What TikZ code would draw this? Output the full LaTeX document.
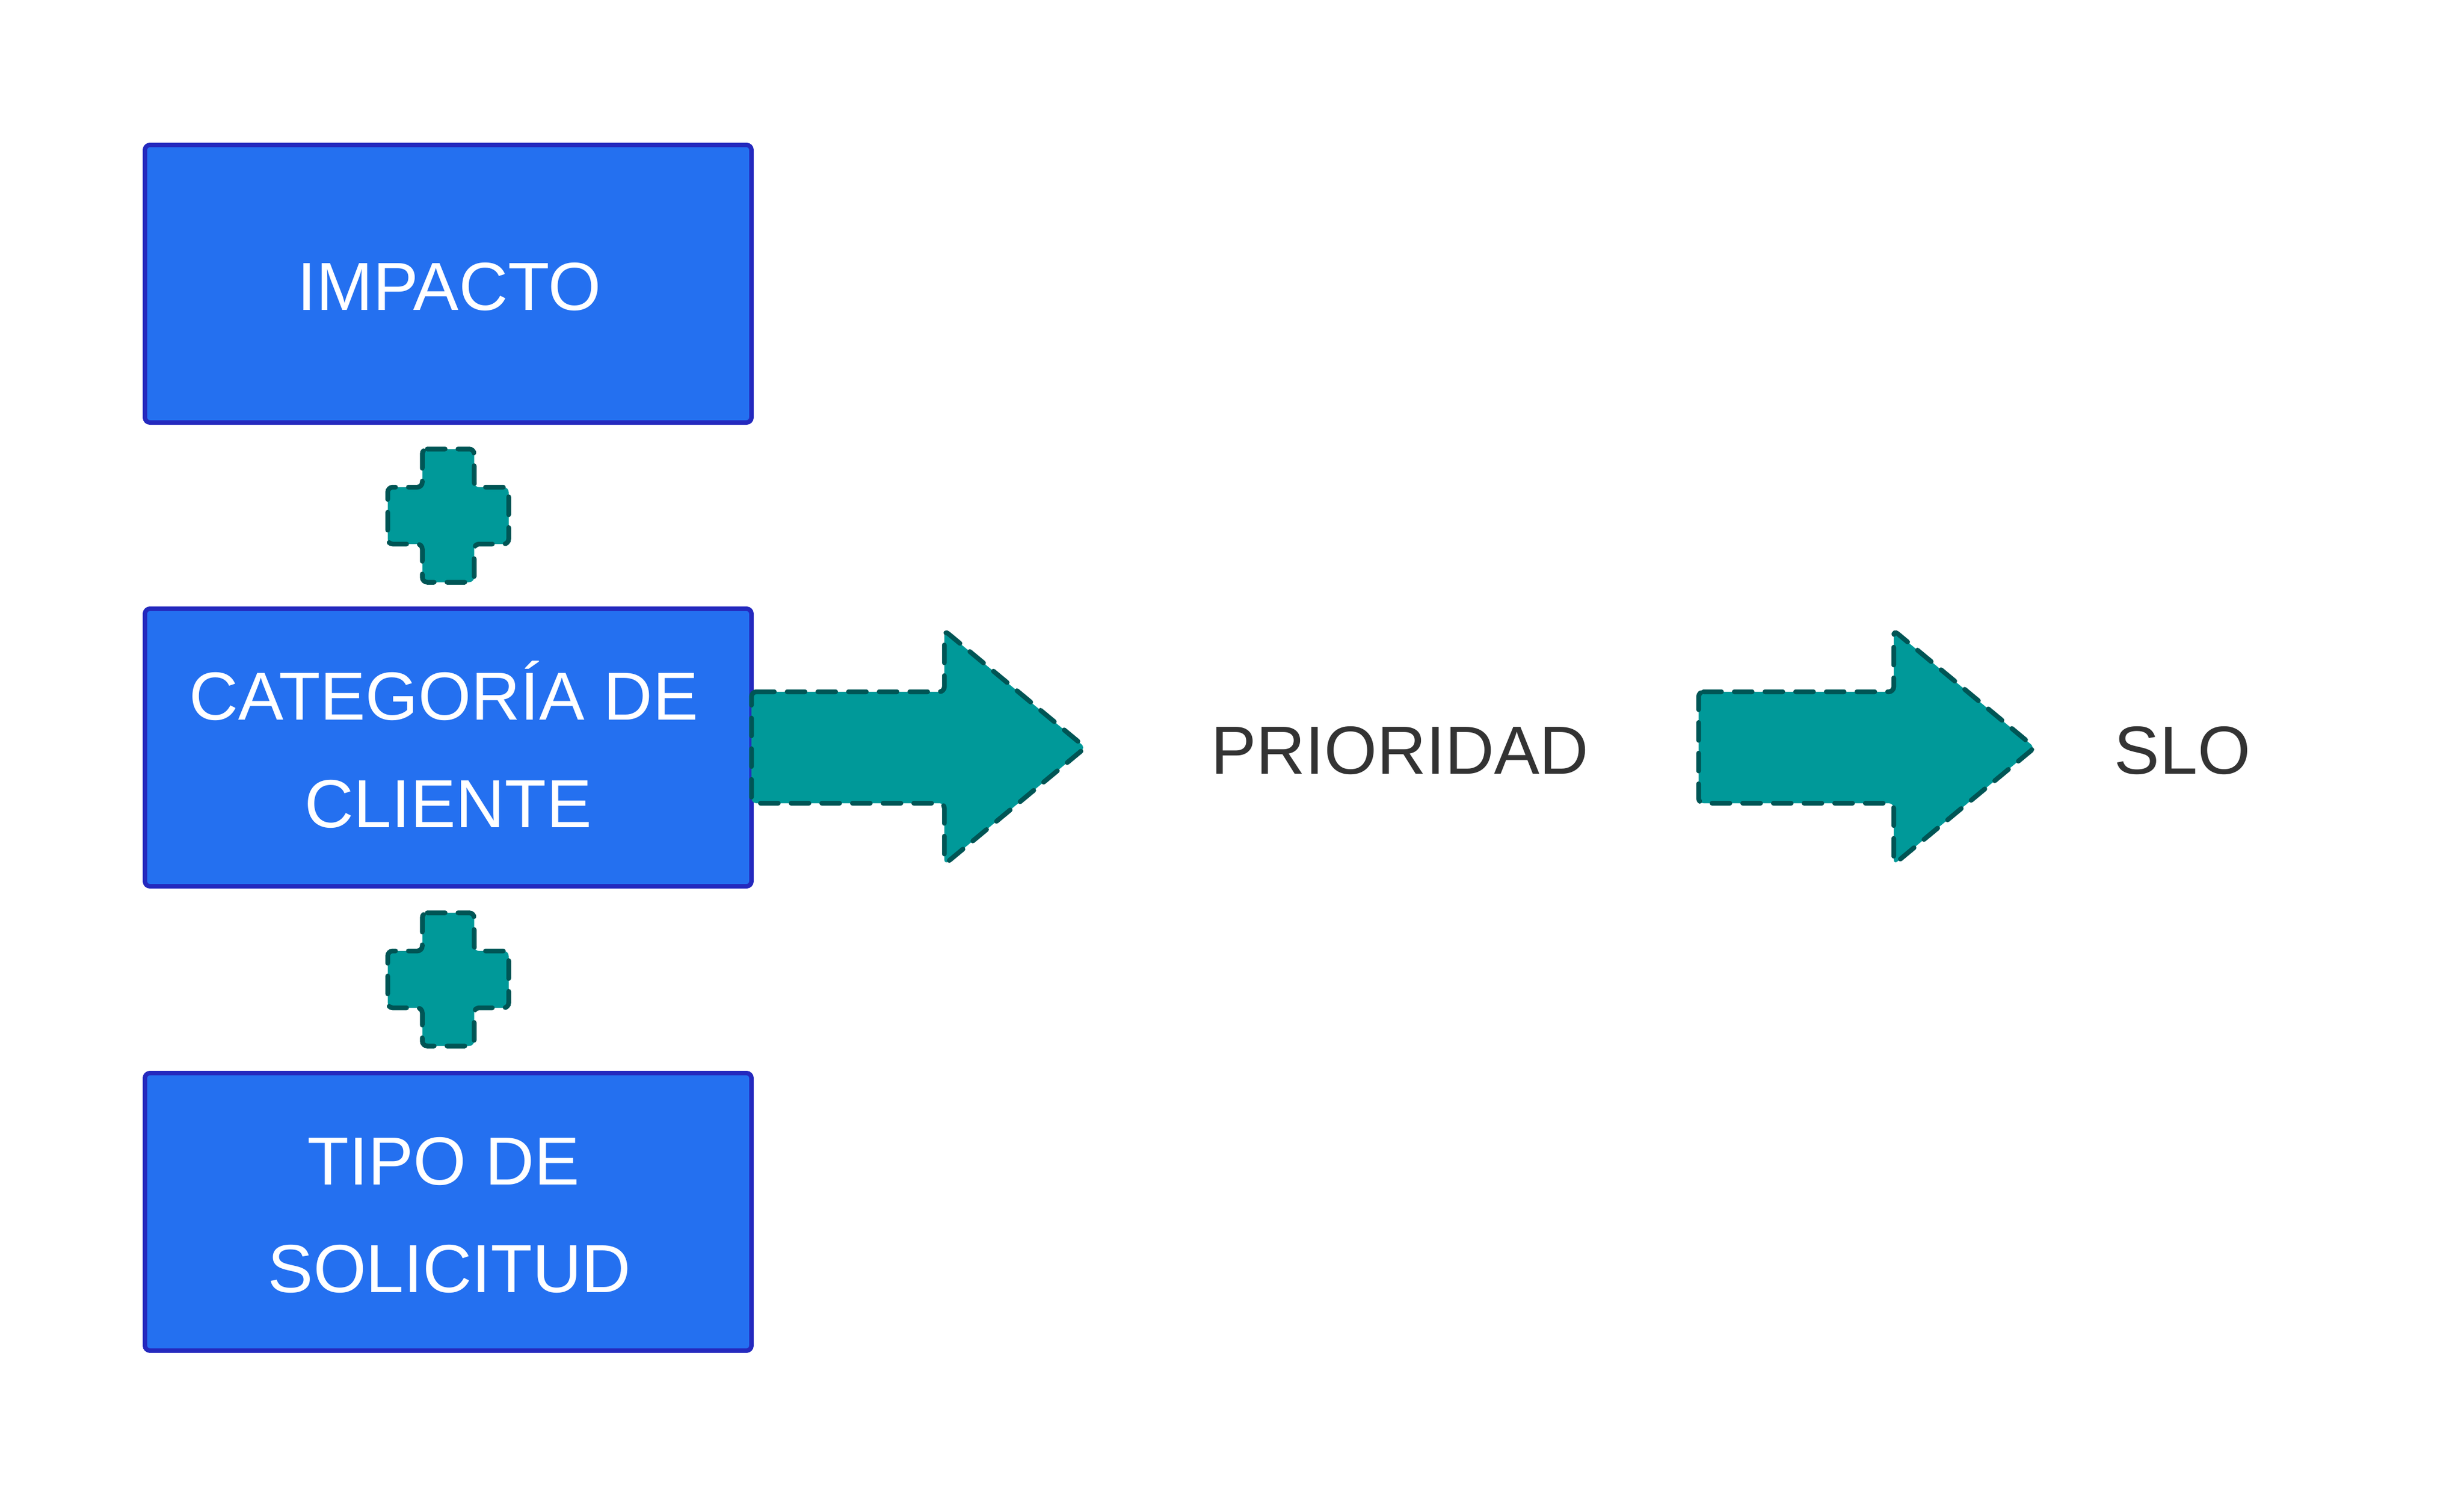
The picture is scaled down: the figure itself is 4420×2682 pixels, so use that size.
\documentclass[tikz,border=0pt]{standalone}
\usepackage{fontspec}
\setmainfont{Liberation Sans}
\usetikzlibrary{calc}
\definecolor{boxfill}{HTML}{2470F0}
\definecolor{boxline}{HTML}{2429BE}
\definecolor{tealfill}{HTML}{009999}
\definecolor{tealline}{HTML}{005555}
\definecolor{txtgray}{HTML}{333333}
\tikzset{
  box/.style={draw=boxline, fill=boxfill, line width=8pt, rounded corners=9pt,
    minimum width=1088pt, minimum height=498pt, inner sep=0pt, outer sep=0pt},
  wlbl/.style={text=white, inner sep=0pt, anchor=base, font=\fontsize{122}{190}\selectfont},
  glbl/.style={text=txtgray, inner sep=0pt, anchor=base, font=\fontsize{122}{190}\selectfont},
  tealshape/.style={draw=tealline, fill=tealfill, line width=8.5pt, line cap=round,
    dash pattern=on 32pt off 23pt, rounded corners=9pt},
}
\begin{document}
\begin{tikzpicture}[x=1pt,y=-1pt]
\useasboundingbox (0,0) rectangle (4420,2682);
% boxes
\node[box] (b1) at (804,509) {};
\node[box] (b2) at (804,1341) {};
\node[box] (b3) at (804,2174) {};
\node[wlbl] (t1) at (806,556) {IMPACTO};
\node[wlbl] (t2a) at (796,1291) {CATEGORÍA DE};
\node[wlbl] (t2b) at (804,1484) {CLIENTE};
\node[wlbl] (t3a) at (796,2125) {TIPO DE};
\node[wlbl] (t3b) at (806,2318) {SOLICITUD};
% plus signs
\coordinate (p1) at (804,925);
\coordinate (p2) at (804,1757);
\foreach \p in {p1,p2}{
  \draw[tealshape] ($(\p)+(-46.5,-119.5)$) -- ($(\p)+(46.5,-119.5)$) -- ($(\p)+(46.5,-51)$)
    -- ($(\p)+(108.5,-51)$) -- ($(\p)+(108.5,51)$) -- ($(\p)+(46.5,51)$)
    -- ($(\p)+(46.5,119.5)$) -- ($(\p)+(-46.5,119.5)$) -- ($(\p)+(-46.5,51)$)
    -- ($(\p)+(-108.5,51)$) -- ($(\p)+(-108.5,-51)$) -- ($(\p)+(-46.5,-51)$) -- cycle;
}
% labels
\node[glbl] (prio) at (2511,1388) {PRIORIDAD};
\node[glbl] (slo) at (3915,1388) {SLO};
% block arrows
\coordinate (a1) at (b2.east);
\coordinate (a2) at (3047,1341);
\foreach \a/\hl in {a1/346,a2/350}{
  \draw[tealshape] ($(\a)+(0,-100)$) -- ++(\hl,0) -- ++(0,-110) -- ++(253,210)
    -- ++(-253,210) -- ++(0,-110) -- ++(-\hl,0) -- cycle;
}
\end{tikzpicture}
\end{document}
